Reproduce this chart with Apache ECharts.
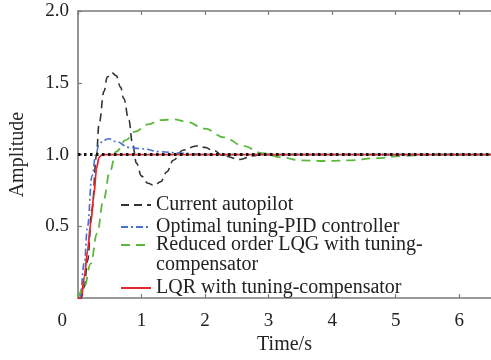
<!DOCTYPE html>
<html>
<head>
<meta charset="utf-8">
<script src="https://cdn.jsdelivr.net/npm/echarts@6/dist/echarts.min.js"></script>
<style>
html,body{margin:0;padding:0;background:#fff;}
#c{width:491px;height:360px;}
</style>
</head>
<body>
<div id="c"></div>
<script>
// ---- data ----
var seriesNames = [
  'Current autopilot',
  'Optimal tuning-PID controller',
  'Reduced order LQG with tuning-\ncompensator',
  'LQR with tuning-compensator'
];
var xTickLabels = ['0', '1', '2', '3', '4', '5', '6'];
var yTickLabels = ['0.5', '1.0', '1.5', '2.0'];

var tCurrent = [0, 0.05, 0.1, 0.15, 0.22, 0.29, 0.33, 0.41, 0.46, 0.53, 0.6, 0.67, 0.72, 0.8, 0.86, 0.92, 1.0, 1.1, 1.2, 1.3, 1.4, 1.5, 1.65, 1.86, 2.0, 2.12, 2.3, 2.55, 2.74, 2.9, 3.2, 6.5];
var yCurrent = [0, 0, 0.08, 0.26, 0.62, 0.99, 1.21, 1.44, 1.54, 1.57, 1.55, 1.47, 1.39, 1.24, 1.07, 0.94, 0.85, 0.8, 0.785, 0.81, 0.88, 0.96, 1.03, 1.06, 1.05, 1.03, 0.99, 0.966, 0.99, 1.0, 1.0, 1.0];

var tPID = [0, 0.03, 0.1, 0.15, 0.22, 0.28, 0.33, 0.4, 0.49, 0.6, 0.8, 1.0, 1.3, 1.6, 2.0, 6.5];
var yPID = [0, 0, 0.25, 0.5, 0.85, 1.0, 1.07, 1.1, 1.11, 1.09, 1.05, 1.04, 1.02, 1.01, 1.0, 1.0];

var tLQG = [0, 0.1, 0.2, 0.3, 0.4, 0.5, 0.6, 0.75, 0.9, 1.1, 1.3, 1.5, 1.7, 2.0, 2.3, 2.6, 2.9, 3.2, 3.5, 3.9, 4.3, 4.7, 5.1, 5.6, 6.5];
var yLQG = [0, 0.08, 0.24, 0.45, 0.68, 0.88, 1.02, 1.1, 1.16, 1.21, 1.24, 1.245, 1.23, 1.18, 1.12, 1.06, 1.01, 0.98, 0.96, 0.955, 0.96, 0.975, 0.99, 1.0, 1.0];

var tLQR = [0, 0.05, 0.1, 0.15, 0.2, 0.25, 0.29, 0.33, 0.38, 6.5];
var yLQR = [0, 0, 0.15, 0.33, 0.52, 0.72, 0.9, 0.98, 1.0, 1.0];

var tRef = [0, 6.5];
var yRef = [1, 1];

function pairs(t, y) { return t.map(function (v, i) { return [v, y[i]]; }); }

var FONT = 'Liberation Serif, Times New Roman, serif';
var AXIS_COLOR = '#7a7a7a';

function makeLegend(names, top, formatter) {
  return {
    orient: 'vertical',
    left: 120,
    top: top,
    padding: 0,
    itemWidth: 30,
    itemHeight: 14,
    itemGap: 2,
    data: names,
    formatter: formatter,
    itemStyle: {color: 'rgba(0,0,0,0)', borderWidth: 0, opacity: 0},
    textStyle: {fontFamily: FONT, fontSize: 20, lineHeight: 20, color: '#222'}
  };
}

var chart = echarts.init(document.getElementById('c'), null, {renderer: 'canvas'});
var option = {
  backgroundColor: '#fff',
  animation: false,
  grid: {left: 74, right: 0, top: 11, bottom: 55, containLabel: false},
  legend: [
    makeLegend([seriesNames[0], seriesNames[1]], 195),
    makeLegend([seriesNames[2]], 215, function (n) { return '\n' + n; }),
    makeLegend([seriesNames[3]], 278)
  ],
  xAxis: [{
    type: 'value', min: 0, max: 6.5, interval: 1,
    name: 'Time/s', nameLocation: 'middle', nameGap: 36,
    nameTextStyle: {fontFamily: FONT, fontSize: 20, color: '#222'},
    axisLine: {lineStyle: {color: AXIS_COLOR, width: 1.6}},
    axisTick: {inside: true, length: 4, lineStyle: {color: AXIS_COLOR, width: 1.2}},
    splitLine: {show: false},
    axisLabel: {
      fontFamily: FONT, fontSize: 19, color: '#222', margin: 13,
      showMaxLabel: false, alignMinLabel: 'right',
      formatter: function (v) {
        var i = Math.round(v);
        if (Math.abs(v - i) > 1e-6) return '';
        if (i === 0) return '{z|' + xTickLabels[0] + '}';
        return xTickLabels[i] || '';
      },
      rich: {z: {fontFamily: FONT, fontSize: 19, color: '#222', padding: [0, 11, 0, 0]}}
    }
  }, {
    type: 'value', min: 0, max: 6.5, interval: 1, position: 'top',
    axisLine: {lineStyle: {color: AXIS_COLOR, width: 1.6}},
    axisTick: {inside: true, length: 4, lineStyle: {color: AXIS_COLOR, width: 1.2}},
    axisLabel: {show: false}, splitLine: {show: false}
  }],
  yAxis: {
    type: 'value', min: 0, max: 2, interval: 0.5,
    name: 'Amplitude', nameLocation: 'middle', nameGap: 50,
    nameTextStyle: {fontFamily: FONT, fontSize: 20, color: '#222'},
    axisLine: {show: true, lineStyle: {color: AXIS_COLOR, width: 1.6}},
    axisTick: {inside: true, length: 4, lineStyle: {color: AXIS_COLOR, width: 1.2}},
    splitLine: {show: false},
    axisLabel: {
      fontFamily: FONT, fontSize: 19, color: '#222', margin: 9,
      formatter: function (v) {
        var idx = Math.round(v / 0.5) - 1;
        return idx >= 0 ? (yTickLabels[idx] || '') : '';
      }
    }
  },
  series: [
    {name: seriesNames[0], type: 'line', data: pairs(tCurrent, yCurrent), showSymbol: false, symbol: 'none',
     smooth: 0.4, smoothMonotone: 'x', color: '#333333',
     lineStyle: {color: '#333333', width: 1.6, type: [8, 5]}},
    {name: seriesNames[1], type: 'line', data: pairs(tPID, yPID), showSymbol: false, symbol: 'none',
     smooth: 0.4, smoothMonotone: 'x', color: '#4a6fd4',
     lineStyle: {color: '#4a6fd4', width: 1.6, type: [7, 3, 2, 3]}},
    {name: seriesNames[2], type: 'line', data: pairs(tLQG, yLQG), showSymbol: false, symbol: 'none',
     smooth: 0.4, smoothMonotone: 'x', color: '#5cb83a',
     lineStyle: {color: '#5cb83a', width: 1.8, type: [9, 6]}},
    {name: seriesNames[3], type: 'line', data: pairs(tLQR, yLQR), showSymbol: false, symbol: 'none',
     smooth: 0.3, smoothMonotone: 'x', color: '#e3262c',
     lineStyle: {color: '#e3262c', width: 1.8, type: 'solid'}},
    {name: 'ref', type: 'line', data: pairs(tRef, yRef), showSymbol: false, symbol: 'none',
     color: '#111', z: 5,
     lineStyle: {color: '#111', width: 3, type: [2.5, 3.5]}}
  ]
};
chart.setOption(option);
</script>
</body>
</html>
